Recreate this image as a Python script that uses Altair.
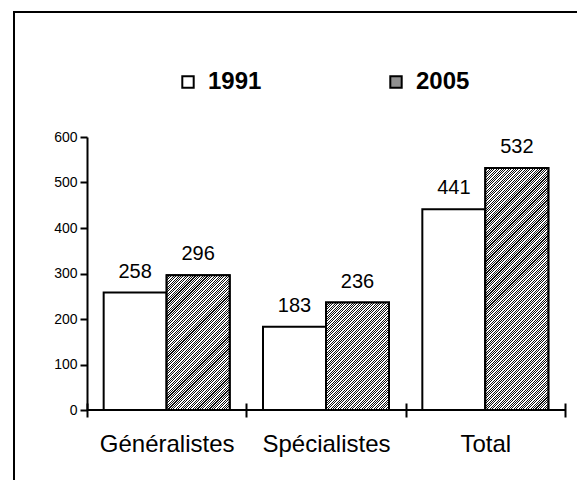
import altair as alt
import pandas as pd

categories = ["Généralistes", "Spécialistes", "Total"]
years = ["1991", "2005"]
values_1991 = [258, 183, 441]
values_2005 = [296, 236, 532]

rows = []
for c, a, b in zip(categories, values_1991, values_2005):
    rows.append({"category": c, "year": "1991", "value": a})
    rows.append({"category": c, "year": "2005", "value": b})
df = pd.DataFrame(rows)

FONT = "Liberation Sans"
W, H = 478, 273
YMAX = 600
BAR_W = 63.0

x_enc = alt.X(
    "category:N",
    sort=categories,
    scale=alt.Scale(paddingInner=0, paddingOuter=0),
    axis=alt.Axis(
        title=None, labelAngle=0, labelFontSize=24, labelFont=FONT, labelColor="black",
        tickColor="black", tickWidth=2, tickSize=14, offset=-7, domain=False,
        labelPadding=15, tickBand="extent",
    ),
)
xo_enc = alt.XOffset("year:N", sort=years, scale=alt.Scale(paddingInner=0, paddingOuter=0.2645))
y_enc = alt.Y(
    "value:Q",
    scale=alt.Scale(domain=[0, YMAX], nice=False),
    axis=alt.Axis(
        title=None, values=[0, 100, 200, 300, 400, 500, 600], labelFontSize=14, labelFont=FONT,
        labelColor="black", tickColor="black", tickWidth=2, tickSize=7, domainColor="black",
        domainWidth=2, grid=False, labelPadding=3,
    ),
)

base = alt.Chart(df)

bars = base.mark_bar(stroke="black", strokeWidth=2).encode(
    x=x_enc,
    xOffset=xo_enc,
    y=y_enc,
    fill=alt.Fill(
        "year:N",
        scale=alt.Scale(domain=years, range=["white", "#909090"]),
        legend=alt.Legend(
            title=None, orient="none", legendX=89, legendY=-67, direction="horizontal",
            symbolType="square", symbolSize=130, symbolStrokeColor="black",
            symbolStrokeWidth=2, labelFont=FONT, labelFontSize=24, labelFontWeight="bold",
            labelColor="black", labelOffset=8, columnPadding=122, padding=0,
        ),
    ),
)


def hatch(v):
    h = v * H / YMAX
    w = BAR_W
    k = (w + h) / (w * w + h * h)
    n = max(1, int(round((w + h) / 2.4)))
    stops = []
    d = 0.45
    for i in range(n):
        s0 = i / n
        s1 = (i + d) / n
        s2 = (i + 1) / n
        stops += [
            alt.GradientStop(offset=s0, color="#111111"),
            alt.GradientStop(offset=s1, color="#111111"),
            alt.GradientStop(offset=s1, color="#ffffff"),
            alt.GradientStop(offset=s2, color="#ffffff"),
        ]
    return alt.LinearGradient(gradient="linear", stops=stops, x1=0, y1=0, x2=k * w, y2=k * h)


hatch_layers = []
for c, v in zip(categories, values_2005):
    hatch_layers.append(
        base.transform_filter((alt.datum.category == c) & (alt.datum.year == "2005"))
        .mark_bar(stroke="black", strokeWidth=2, fill=hatch(v))
        .encode(x=x_enc, xOffset=xo_enc, y=y_enc)
    )

labels = base.mark_text(dy=-15, fontSize=20, font=FONT, baseline="alphabetic", color="black").encode(
    x=x_enc, xOffset=xo_enc, y=y_enc, text="value:Q"
)

zero_line = alt.Chart(pd.DataFrame({"v": [0]})).mark_rule(color="black", strokeWidth=2).encode(
    y=alt.Y("v:Q")
)

frame_data = pd.DataFrame({"v": [0]})
frame_top = alt.Chart(frame_data).mark_rule(color="black", strokeWidth=2).encode(
    x=alt.value(-73), x2=alt.value(700), y=alt.value(-125)
)
frame_left = alt.Chart(frame_data).mark_rule(color="black", strokeWidth=2).encode(
    x=alt.value(-73), y=alt.value(-126), y2=alt.value(500)
)

chart = alt.layer(bars, *hatch_layers, labels, zero_line, frame_top, frame_left).properties(
    width=W,
    height=H,
    autosize=alt.AutoSizeParams(type="none"),
    padding={"left": 79, "top": 129, "right": 12, "bottom": 70},
).configure_view(stroke=None)

chart.save("out.html", embed_options={"renderer": "svg", "actions": False})
